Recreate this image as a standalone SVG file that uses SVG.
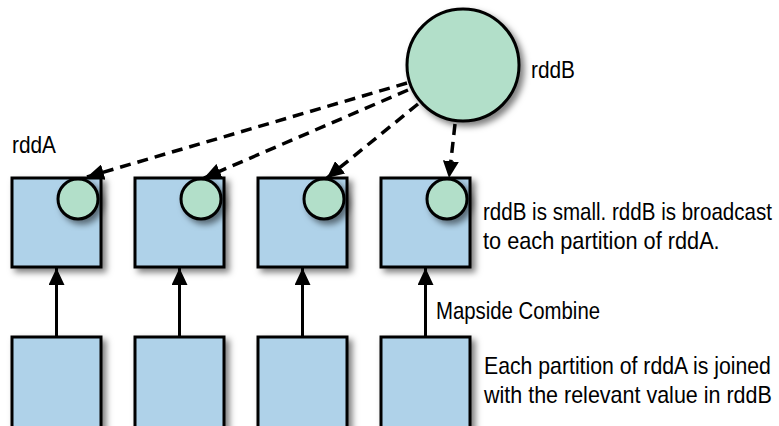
<svg xmlns="http://www.w3.org/2000/svg" width="779" height="426" viewBox="0 0 779 426">
  <style>
    .part { fill: #afd2e9; stroke: #000; stroke-width: 3; }
    .bcast { fill: #b2dfc9; stroke: #000; stroke-width: 3; }
    .dash { fill: none; stroke: #000; stroke-width: 3.5; stroke-dasharray: 11 7; }
    .solid { fill: none; stroke: #000; stroke-width: 3; }
    text { font-family: "Liberation Sans", Arial, sans-serif; fill: #000; font-size: 24px; }
  </style>
  <defs>
    <filter id="shadow" x="-20%" y="-20%" width="150%" height="150%">
      <feDropShadow dx="4" dy="4" stdDeviation="3" flood-color="#000" flood-opacity="0.5"/>
    </filter>
    <marker id="head" viewBox="0 0 17 16" refX="17" refY="8" markerWidth="17" markerHeight="16" markerUnits="userSpaceOnUse" orient="auto">
      <path d="M0,0 L17,8 L0,16 Z" fill="#000"/>
    </marker>
  </defs>

  <g id="connectors">
    <!-- broadcast of rddB to every partition -->
    <line class="dash" x1="407" y1="83" x2="87" y2="177" marker-end="url(#head)"/>
    <line class="dash" x1="408" y1="90" x2="204" y2="178" marker-end="url(#head)"/>
    <line class="dash" x1="418" y1="104" x2="327" y2="178" marker-end="url(#head)"/>
    <line class="dash" x1="455" y1="124" x2="449" y2="178" marker-end="url(#head)"/>
    <!-- map-side combine -->
    <line class="solid" x1="56.5" y1="337" x2="56.5" y2="268" marker-end="url(#head)"/>
    <line class="solid" x1="179.5" y1="337" x2="179.5" y2="268" marker-end="url(#head)"/>
    <line class="solid" x1="302.5" y1="337" x2="302.5" y2="268" marker-end="url(#head)"/>
    <line class="solid" x1="425.5" y1="337" x2="425.5" y2="268" marker-end="url(#head)"/>
  </g>

  <!-- rddB: the small dataset -->
  <g id="rddB">
    <circle class="bcast" cx="463" cy="65" r="56" filter="url(#shadow)"/>
    <text transform="translate(531,78) scale(0.868,1)">rddB</text>
  </g>

  <text id="rddA-label" transform="translate(12,153) scale(0.868,1)">rddA</text>

  <!-- rddA partitions after the join, each holding a copy of rddB -->
  <g id="joined-1">
    <rect class="part" x="12" y="178" width="89" height="89" filter="url(#shadow)"/>
    <circle class="bcast" cx="78" cy="199" r="20" filter="url(#shadow)"/>
  </g>
  <g id="joined-2">
    <rect class="part" x="135" y="178" width="89" height="89" filter="url(#shadow)"/>
    <circle class="bcast" cx="201" cy="199" r="20" filter="url(#shadow)"/>
  </g>
  <g id="joined-3">
    <rect class="part" x="258" y="178" width="89" height="89" filter="url(#shadow)"/>
    <circle class="bcast" cx="324" cy="199" r="20" filter="url(#shadow)"/>
  </g>
  <g id="joined-4">
    <rect class="part" x="381" y="178" width="89" height="89" filter="url(#shadow)"/>
    <circle class="bcast" cx="447" cy="199" r="20" filter="url(#shadow)"/>
  </g>

  <!-- original rddA partitions -->
  <g id="part-1"><rect class="part" x="12" y="337" width="89" height="100" filter="url(#shadow)"/></g>
  <g id="part-2"><rect class="part" x="135" y="337" width="89" height="100" filter="url(#shadow)"/></g>
  <g id="part-3"><rect class="part" x="258" y="337" width="89" height="100" filter="url(#shadow)"/></g>
  <g id="part-4"><rect class="part" x="381" y="337" width="89" height="100" filter="url(#shadow)"/></g>

  <!-- condensed captions: horizontal scale narrows the sans face -->
  <g id="notes">
    <text transform="translate(483,220) scale(0.857,1)">rddB is small. rddB is broadcast</text>
    <text transform="translate(483,249) scale(0.906,1)">to each partition of rddA.</text>
    <text transform="translate(436,319) scale(0.848,1)">Mapside Combine</text>
    <text transform="translate(484,374) scale(0.885,1)">Each partition of rddA is joined</text>
    <text transform="translate(484,403) scale(0.896,1)">with the relevant value in rddB</text>
  </g>
</svg>
